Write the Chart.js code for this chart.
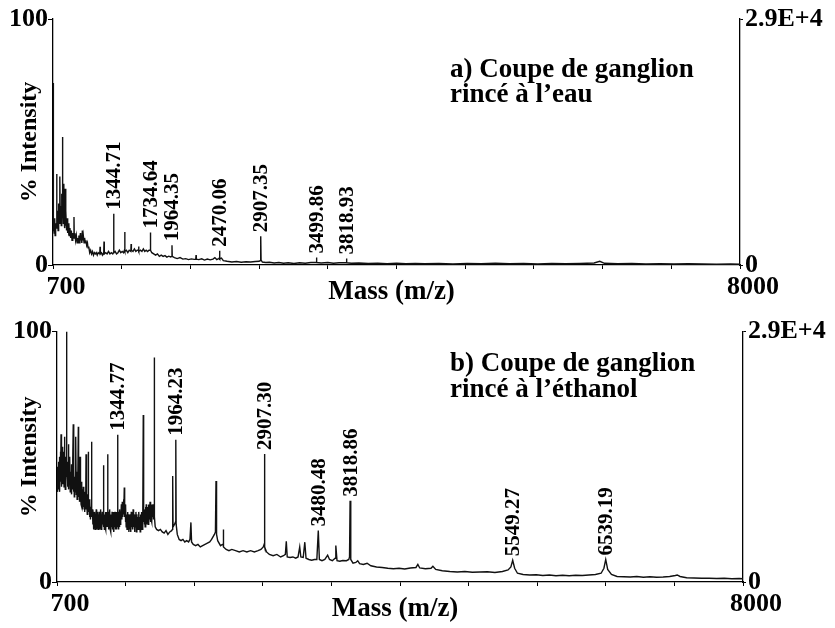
<!DOCTYPE html>
<html>
<head>
<meta charset="utf-8">
<script src="https://cdn.jsdelivr.net/npm/chart.js@4.4.1/dist/chart.umd.min.js"></script>
<style>
  body { margin: 0; background: #fff; }
  #wrap { position: relative; width: 835px; height: 628px; background: #fff; }
  .panel { position: absolute; left: 0; width: 835px; height: 314px; }
</style>
</head>
<body>
<div id="wrap">
  <div class="panel" style="top:0"><canvas id="specA"></canvas></div>
  <div class="panel" style="top:314px"><canvas id="specB"></canvas></div>
</div>
<script>
// m/z axis
const massMin = 700;
const massMax = 8000;
const massStep = 730;
const rightTopLabel = '2.9E+4';

// a) section rinsed with water : [m/z, % intensity]
const spectrumA = [
  [700,14],[702,20],[704,74],[706,18],[712,13],[718,19],[722,12],[728,17],[734,15],[739,37],
  [742,16],[748,22],[754,14],[760,25],[766,17],[771,20],[774,36],[777,19],[782,24],[788,16],
  [793,29],[796,21],[799,52],[802,20],[806,27],[810,17],[815,33],[818,18],[822,26],[826,15],
  [830,31],[833,16],[838,22],[844,14],[850,19],[856,13],[862,17],[867,12],[870,16.5],[873,12],
  [880,15],[888,11],[895,14],[902,10],[910,13],[918,11],[923,19.5],[926,11],[932,13],[940,10],
  [948,12],[956,9],[962,11],[968,9],[975,12],[980,9],[986,11],[991,13],[994,10],[1000,12],
  [1006,9],[1012,14],[1016,10],[1022,12],[1030,9],[1036,11],[1042,9],[1050,10],[1058,8],[1066,9],
  [1072,7],[1080,7.5],[1090,5],[1100,6],[1110,4.5],[1120,5.5],[1130,4],[1140,5],[1150,4.5],[1160,5],
  [1170,4],[1180,5],[1197,4.5],[1200,7.4],[1203,4.5],[1215,5],[1225,4],[1239,5],[1242,9.5],[1245,4.5],
  [1260,5],[1275,4.5],[1290,5.5],[1305,4.5],[1320,5],[1335,4.5],[1342,5],[1344.71,20.8],[1347,5],[1360,5.5],
  [1375,4.5],[1390,5],[1405,6],[1420,5],[1435,5.5],[1450,5],[1459,6],[1462,13.4],[1465,5.5],[1480,6],
  [1495,5],[1510,6],[1527,5.5],[1530,8.5],[1533,6],[1550,5.5],[1565,6.5],[1580,5.5],[1595,6],[1607,6],
  [1610,7.5],[1613,5.5],[1630,6],[1645,5.5],[1660,6.5],[1675,5.5],[1690,6],[1705,5.5],[1720,6],[1731,6],
  [1734.64,13.2],[1738,6],[1750,5],[1770,4.5],[1790,4],[1810,4.5],[1830,3.5],[1850,4],[1870,3.5],[1890,3.8],
  [1910,3.2],[1930,3.6],[1950,3.3],[1961,3.5],[1964.35,8],[1967,3.5],[1990,3],[2020,2.6],[2050,3],[2080,2.4],
  [2110,2.6],[2140,2.2],[2170,2.5],[2200,2.3],[2217,2.4],[2220,4],[2223,2.4],[2250,2.2],[2280,2.5],[2310,2],
  [2340,2.4],[2370,2.1],[2400,2.4],[2420,3],[2440,2.2],[2460,2.6],[2467,2.8],[2470.06,5.8],[2473,2.5],[2490,2.8],
  [2510,1.8],[2550,1.5],[2600,1.2],[2650,1.4],[2700,1.1],[2750,1.3],[2800,1.2],[2850,1.4],[2890,1.5],[2904,1.8],
  [2907.35,11.7],[2911,2],[2925,1.2],[2960,1],[3000,1.1],[3050,0.8],[3100,1],[3150,0.7],[3200,0.9],[3260,0.6],
  [3320,0.9],[3380,0.7],[3440,1],[3490,1],[3496,1],[3499.86,3],[3503,1],[3550,0.8],[3620,1],[3680,0.7],
  [3740,0.9],[3800,0.9],[3815,0.9],[3818.93,2.6],[3822,0.9],[3870,0.7],[3950,0.8],[4050,0.6],[4150,0.7],[4250,0.5],
  [4350,0.7],[4450,0.5],[4550,0.6],[4650,0.5],[4800,0.6],[4950,0.4],[5100,0.6],[5250,0.5],[5400,0.7],[5550,0.5],
  [5700,0.6],[5850,0.4],[6000,0.6],[6150,0.5],[6300,0.6],[6450,0.8],[6510,1.5],[6560,0.7],[6700,0.5],[6850,0.6],
  [7000,0.4],[7150,0.5],[7300,0.4],[7450,0.5],[7600,0.4],[7750,0.3],[7900,0.4],[8000,0.3]
];

// b) section rinsed with ethanol : [m/z, % intensity]
const spectrumB = [
  [700,38],[702,44],[705,36],[708,46],[711,40],[714,48],[717,37],[720,45],[723,39],[726,50],
  [729,36],[732,47],[735,41],[738,52],[741,40],[743,59],[745,42],[748,47],[751,38],[754,49],
  [757,40],[760,54],[763,39],[766,46],[770,41],[773,52],[775,38],[778,58],[781,42],[785,47],
  [788,37],[792,50],[795,40],[798,45],[801,42],[803,100],[805,43],[808,48],[812,38],[816,46],
  [819,41],[822,55],[825,37],[829,45],[833,39],[837,50],[841,36],[845,44],[849,38],[853,47],
  [857,35],[861,43],[865,37],[870,49],[873,63],[876,36],[880,45],[884,34],[888,42],[892,36],
  [896,48],[899,40],[902,58],[905,35],[910,44],[914,33],[918,41],[922,36],[927,62],[930,34],
  [935,42],[940,32],[945,50],[948,33],[952,39],[956,31],[961,40],[965,30],[970,37],[975,29],
  [980,38],[985,30],[990,35],[995,28],[1000,36],[1005,29],[1009,51],[1012,30],[1017,34],[1022,27],
  [1027,35],[1030,29],[1033,52],[1036,28],[1041,33],[1046,26],[1051,32],[1056,25],[1062,30],[1066,27],
  [1069,56],[1072,26],[1077,29],[1082,23],[1086,28],[1090,21],[1094,27],[1098,22],[1102,28],[1106,21],
  [1110,27],[1114,23],[1118,29],[1122,21],[1126,26],[1130,22],[1134,28],[1138,21],[1142,27],[1146,22],
  [1150,28],[1154,21],[1158,26],[1162,22],[1166,29],[1170,21],[1174,27],[1178,22],[1182,28],[1186,23],
  [1190,26],[1193,46.6],[1196,22],[1200,28],[1204,21],[1208,27],[1212,22],[1216,28],[1220,21],[1224,27],
  [1228,22],[1232,28],[1236,23],[1239,51],[1242,22],[1246,28],[1250,21],[1254,27],[1258,22],[1262,29],
  [1266,21],[1270,27],[1274,20],[1278,26],[1282,22],[1286,28],[1290,21],[1294,27],[1298,22],[1302,28],
  [1306,20],[1310,26],[1314,22],[1318,28],[1322,21],[1326,27],[1330,23],[1334,28],[1338,21],[1341,26],
  [1344.77,58.8],[1348,22],[1352,28],[1356,21],[1360,27],[1364,22],[1368,29],[1372,23],[1376,28],[1380,24],
  [1385,31],[1390,25],[1395,32],[1400,26],[1404,30],[1408,33],[1412,27],[1416,37.7],[1420,26],[1424,31],
  [1428,24],[1432,30],[1436,22],[1440,27],[1445,21],[1450,28],[1455,22],[1460,27],[1465,20],[1470,26],
  [1475,21],[1480,27],[1485,20],[1490,28],[1495,22],[1500,26],[1505,21],[1510,29],[1515,22],[1520,27],
  [1525,20],[1530,26],[1535,22],[1540,28],[1545,20],[1550,27],[1555,22],[1560,26],[1565,21],[1570,28],
  [1575,22],[1580,26],[1585,20],[1590,27],[1595,22],[1600,28],[1605,21],[1610,27],[1615,23],[1618,66.7],
  [1622,24],[1626,29],[1630,23],[1634,28],[1638,22],[1642,30],[1646,24],[1650,31],[1654,23],[1658,29],
  [1662,24],[1666,30],[1670,23],[1674,31],[1678,24],[1682,29],[1686,25],[1690,32],[1694,24],[1698,30],
  [1702,25],[1706,31],[1710,24],[1714,30],[1718,26],[1722,31],[1726,25],[1730,29],[1733,27],[1735,89.7],
  [1738,26],[1745,22],[1760,21],[1780,20.5],[1800,21],[1820,20],[1840,19.5],[1860,20.5],[1880,19],[1900,20],
  [1920,20.5],[1928,21],[1931,42.3],[1935,22],[1950,23],[1961,24],[1964.23,56.8],[1968,23],[1980,19],[2000,17],
  [2020,16.5],[2040,17],[2060,16],[2080,16.5],[2100,16],[2115,17],[2125,23.8],[2132,16],[2150,15],[2175,14.5],
  [2200,15],[2225,14],[2250,14.5],[2275,15],[2300,15.5],[2325,16],[2345,17],[2360,18],[2375,19],[2386,20],
  [2392,40.3],[2398,19],[2410,16.5],[2440,14.5],[2460,15],[2467,15],[2470,21],[2473,14],[2500,13],[2530,12.5],
  [2560,13],[2600,12.5],[2640,12],[2680,12.5],[2720,12],[2760,12.5],[2800,12],[2840,12.5],[2870,13],[2895,14],
  [2904,15],[2907.30,51.1],[2912,14],[2930,12],[2960,11],[3000,10.5],[3040,11],[3080,10],[3110,10.5],[3130,11],
  [3140,16.3],[3150,10],[3180,9.8],[3210,10],[3240,9.5],[3265,10],[3283,14],[3295,10],[3320,9.8],[3337,15.9],
  [3350,9.5],[3380,9],[3410,8.7],[3440,9],[3465,9],[3480.48,20.6],[3492,9],[3520,8.5],[3550,9],[3580,10.7],
  [3600,9],[3630,8.5],[3660,9.5],[3667,14.6],[3680,8.5],[3710,8.3],[3740,8.6],[3780,8.5],[3805,9],[3813,10],
  [3818.86,32.4],[3826,9],[3850,7.5],[3880,7.8],[3900,8.5],[3920,7.3],[3960,7],[4000,7.5],[4040,6.5],[4100,6],
  [4160,5.8],[4220,5.5],[4280,5.3],[4340,5.5],[4400,5.2],[4460,5.6],[4520,5.8],[4540,7],[4560,5.6],[4620,5.3],
  [4680,5.5],[4700,6.3],[4730,5],[4800,4.5],[4880,4.2],[4960,4],[5040,4.2],[5120,3.9],[5200,4],[5280,4.1],
  [5360,3.8],[5440,4.2],[5500,4.8],[5530,6],[5549.27,8.7],[5570,5.5],[5600,3.5],[5660,3],[5730,2.8],[5800,2.9],
  [5870,2.6],[5940,2.8],[6010,2.5],[6080,2.7],[6150,2.5],[6220,2.7],[6290,2.6],[6360,2.8],[6430,3],[6490,3.5],
  [6520,5.5],[6539.19,9],[6560,5],[6600,3],[6660,2.2],[6730,2.1],[6800,2],[6870,2.2],[6940,1.9],[7010,2.1],
  [7080,1.9],[7150,2],[7220,2.2],[7280,2.6],[7300,2.8],[7330,2.2],[7400,1.7],[7480,1.6],[7560,1.5],[7640,1.5],
  [7720,1.4],[7800,1.5],[7880,1.3],[7960,1.4],[8000,1.3]
];

// annotated peaks (m/z)
const peaksA = [1344.71, 1734.64, 1964.35, 2470.06, 2907.35, 3499.86, 3818.93];
const peaksB = [1344.77, 1964.23, 2907.30, 3480.48, 3818.86, 5549.27, 6539.19];

const captionA = ['a) Coupe de ganglion', 'rincé à l’eau'];
const captionB = ['b) Coupe de ganglion', 'rincé à l’éthanol'];

const SERIF = '"Liberation Serif", "Times New Roman", serif';

// text on top of the plot: axis titles, caption, peak labels
const annotations = {
  id: 'annotations',
  afterDatasetsDraw(chart, args, opts) {
    const ctx = chart.ctx;
    const x = chart.scales.x, y = chart.scales.y;
    const area = chart.chartArea;
    ctx.save();
    ctx.fillStyle = '#000';

    // peak labels, rotated, just above each peak
    ctx.font = 'bold 21px ' + SERIF;
    ctx.textAlign = 'left';
    ctx.textBaseline = 'middle';
    opts.peaks.forEach(function (m) {
      const pt = opts.spectrum.find(function (p) { return p[0] === m; });
      const px = x.getPixelForValue(m);
      const py = y.getPixelForValue(pt[1]);
      ctx.save();
      ctx.translate(px, py - 4);
      ctx.rotate(-Math.PI / 2);
      ctx.fillText(m.toFixed(2), 0, 1);
      ctx.restore();
    });

    // y title
    ctx.font = 'bold 24px ' + SERIF;
    ctx.textAlign = 'center';
    ctx.save();
    ctx.translate(30, (area.top + area.bottom) / 2);
    ctx.rotate(-Math.PI / 2);
    ctx.fillText('% Intensity', 0, 0);
    ctx.restore();

    // x title
    ctx.font = 'bold 27px ' + SERIF;
    ctx.textBaseline = 'alphabetic';
    ctx.fillText('Mass (m/z)', (area.left + area.right) / 2 - 5, area.bottom + 34);

    // caption
    ctx.textAlign = 'left';
    ctx.fillText(opts.caption[0], 450, opts.captionY[0]);
    ctx.fillText(opts.caption[1], 450, opts.captionY[1]);
    ctx.restore();
  }
};

function drawSpectrum(id, spectrum, peaks, caption, box) {
  const tickFont = { family: SERIF, size: 26, weight: 'bold' };
  new Chart(id, {
    type: 'line',
    data: {
      datasets: [{
        data: spectrum.map(function (p) { return { x: p[0], y: p[1] }; }),
        borderColor: '#111',
        borderWidth: 1.4,
        pointRadius: 0,
        tension: 0,
        fill: false
      }]
    },
    options: {
      responsive: true,
      maintainAspectRatio: false,
      animation: false,
      layout: { padding: { top: box.top, left: 0, right: 0, bottom: 0 } },
      plugins: {
        legend: { display: false },
        tooltip: { enabled: false },
        annotations: { spectrum: spectrum, peaks: peaks, caption: caption, captionY: box.captionY }
      },
      scales: {
        x: {
          type: 'linear',
          min: massMin,
          max: massMax,
          border: { display: true, color: '#000', width: 1.3 },
          grid: { drawOnChartArea: false, drawTicks: true, tickLength: 4, color: '#000' },
          ticks: {
            stepSize: massStep,
            autoSkip: false,
            maxRotation: 0,
            labelOffset: 13,
            padding: 3,
            color: '#000',
            font: tickFont,
            callback: function (v) { return (v === massMin || v === massMax) ? String(v) : ''; }
          },
          afterFit: function (s) { s.height = 314 - box.bottom; }
        },
        y: {
          position: 'left',
          min: 0,
          max: 100,
          border: { display: true, color: '#000', width: 1.3 },
          grid: { drawOnChartArea: false, tickLength: 5, color: '#000' },
          ticks: { stepSize: 100, padding: 0, color: '#000', font: tickFont },
          afterFit: function (s) { s.width = box.left; }
        },
        y2: {
          position: 'right',
          min: 0,
          max: 100,
          border: { display: true, color: '#000', width: 1.3 },
          grid: { drawOnChartArea: false, tickLength: 3, color: '#000' },
          ticks: {
            stepSize: 100,
            padding: 2,
            color: '#000',
            font: tickFont,
            callback: function (v) { return v === 100 ? rightTopLabel : '0'; }
          },
          afterFit: function (s) { s.width = 835 - box.right; }
        }
      }
    },
    plugins: [annotations]
  });
}

drawSpectrum('specA', spectrumA, peaksA, captionA,
  { top: 19, left: 53, right: 740, bottom: 265, captionY: [77, 102] });
drawSpectrum('specB', spectrumB, peaksB, captionB,
  { top: 16, left: 57, right: 743, bottom: 268, captionY: [57, 83] });
</script>
</body>
</html>
